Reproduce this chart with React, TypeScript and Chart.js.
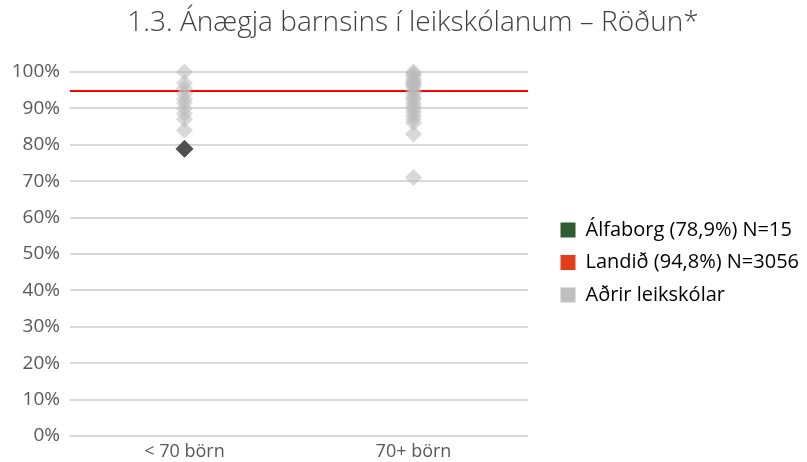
import React, { useEffect, useRef } from "react";
import { Chart, registerables } from "chart.js";

Chart.register(...registerables);

const categories = ["< 70 börn", "70+ börn"];
const titleText = "1.3. Ánægja barnsins í leikskólanum – Röðun*";
const alfaborgLabel = "Álfaborg (78,9%) N=15";
const landidLabel = "Landið (94,8%) N=3056";
const adrirLabel = "Aðrir leikskólar";
const alfaborgValues = [78.9];
const landidValue = 94.8;
const adrirSmall = [100, 97, 95.5, 94, 92.5, 91.5, 90, 88.5, 87, 84];
const adrirLarge = [100, 99.5, 99, 98, 97.5, 97, 96.5, 96, 95, 94, 93, 92.5, 91.5, 90.5, 90, 89, 88, 87, 86, 83, 71];

const FONT = "'Open Sans', sans-serif";

const boxShift = {
  id: "boxShift",
  afterLayout(chart: any) {
    const lg = chart.legend;
    if (lg) {
      lg.left += 20;
      lg.right += 20;
      lg.top += 31.5;
      lg.bottom += 31.5;
    }
    const tb = chart.titleBlock;
    if (tb) {
      tb.left += 19;
      tb.right += 19;
    }
  },
};

export default function App() {
  const ref = useRef<HTMLCanvasElement>(null);
  useEffect(() => {
    let chart: Chart | null = null;
    let cancelled = false;
    const build = () => {
      if (cancelled || !ref.current) return;
      const gray = [
        ...adrirSmall.map((y) => ({ x: 0.5, y })),
        ...adrirLarge.map((y) => ({ x: 1.5, y })),
      ];
      chart = new Chart(ref.current, {
        type: "scatter",
        plugins: [boxShift],
        data: {
          datasets: [
            {
              label: alfaborgLabel,
              data: alfaborgValues.map((y) => ({ x: 0.5, y })),
              pointStyle: "rectRot",
              pointRadius: 8.5,
              backgroundColor: "#505050",
              borderColor: "#505050",
              borderWidth: 1,
              clip: false,
              order: 1,
            } as any,
            {
              label: adrirLabel,
              data: gray,
              pointStyle: "rectRot",
              pointRadius: 8.5,
              backgroundColor: "rgba(185,185,185,0.55)",
              borderColor: "rgba(185,185,185,0)",
              borderWidth: 0,
              clip: false,
              order: 2,
            } as any,
            {
              type: "line",
              label: landidLabel,
              data: [
                { x: 0, y: landidValue },
                { x: 2, y: landidValue },
              ],
              borderColor: "#ff0000",
              borderWidth: 2,
              pointRadius: 0,
              showLine: true,
              order: 3,
            } as any,
          ],
        },
        options: {
          animation: false,
          responsive: true,
          maintainAspectRatio: false,
          layout: { padding: { left: 0, right: 19, top: 0, bottom: 0 } },
          plugins: {
            title: {
              display: true,
              text: titleText,
              color: "#404040",
              font: { family: FONT, size: 28, weight: 300 as any },
              padding: { top: 6, bottom: 32.4 },
            },
            tooltip: { enabled: false },
            legend: {
              position: "right",
              maxWidth: 260,
              labels: {
                boxWidth: 15,
                boxHeight: 15,
                padding: 12.5,
                color: "#404040",
                font: { family: FONT, size: 20 },
                generateLabels: () =>
                  [
                    { text: alfaborgLabel, fillStyle: "#2e5b30", strokeStyle: "#2e5b30", lineWidth: 0, hidden: false, datasetIndex: 0 },
                    { text: landidLabel, fillStyle: "#e23e1c", strokeStyle: "#e23e1c", lineWidth: 0, hidden: false, datasetIndex: 2 },
                    { text: adrirLabel, fillStyle: "#bfbfbf", strokeStyle: "#bfbfbf", lineWidth: 0, hidden: false, datasetIndex: 1 },
                  ] as any,
              },
            } as any,
          },
          scales: {
            x: {
              type: "linear",
              min: 0,
              max: 2,
              afterBuildTicks: (scale: any) => {
                scale.ticks = categories.map((_, i) => ({ value: i + 0.5 }));
              },
              afterFit: (scale: any) => {
                scale.height = 26;
              },
              ticks: {
                color: "#595959",
                font: { family: FONT, size: 18 },
                padding: 5,
                maxRotation: 0,
                callback: (v: any) => categories[Math.floor(Number(v))] ?? "",
              },
              grid: { display: false, drawTicks: false },
              border: { display: false },
            },
            y: {
              min: 0,
              max: 100,
              afterFit: (scale: any) => {
                scale.width = 70;
              },
              ticks: {
                stepSize: 10,
                color: "#595959",
                font: { family: FONT, size: 19 },
                padding: 10,
                callback: (v: any) => v + "%",
              },
              grid: { color: "#d9d9d9", lineWidth: 2, drawTicks: false },
              border: { display: false },
            },
          },
        },
      });
    };
    const fonts: any = (document as any).fonts;
    if (fonts && fonts.load) {
      Promise.all([
        fonts.load("300 28px 'Open Sans'"),
        fonts.load("400 20px 'Open Sans'"),
      ])
        .catch(() => {})
        .then(build);
    } else {
      build();
    }
    return () => {
      cancelled = true;
      if (chart) chart.destroy();
    };
  }, []);
  return (
    <div style={{ position: "absolute", left: 0, top: 0, width: 807, height: 462, background: "#fff" }}>
      <canvas ref={ref} />
    </div>
  );
}
